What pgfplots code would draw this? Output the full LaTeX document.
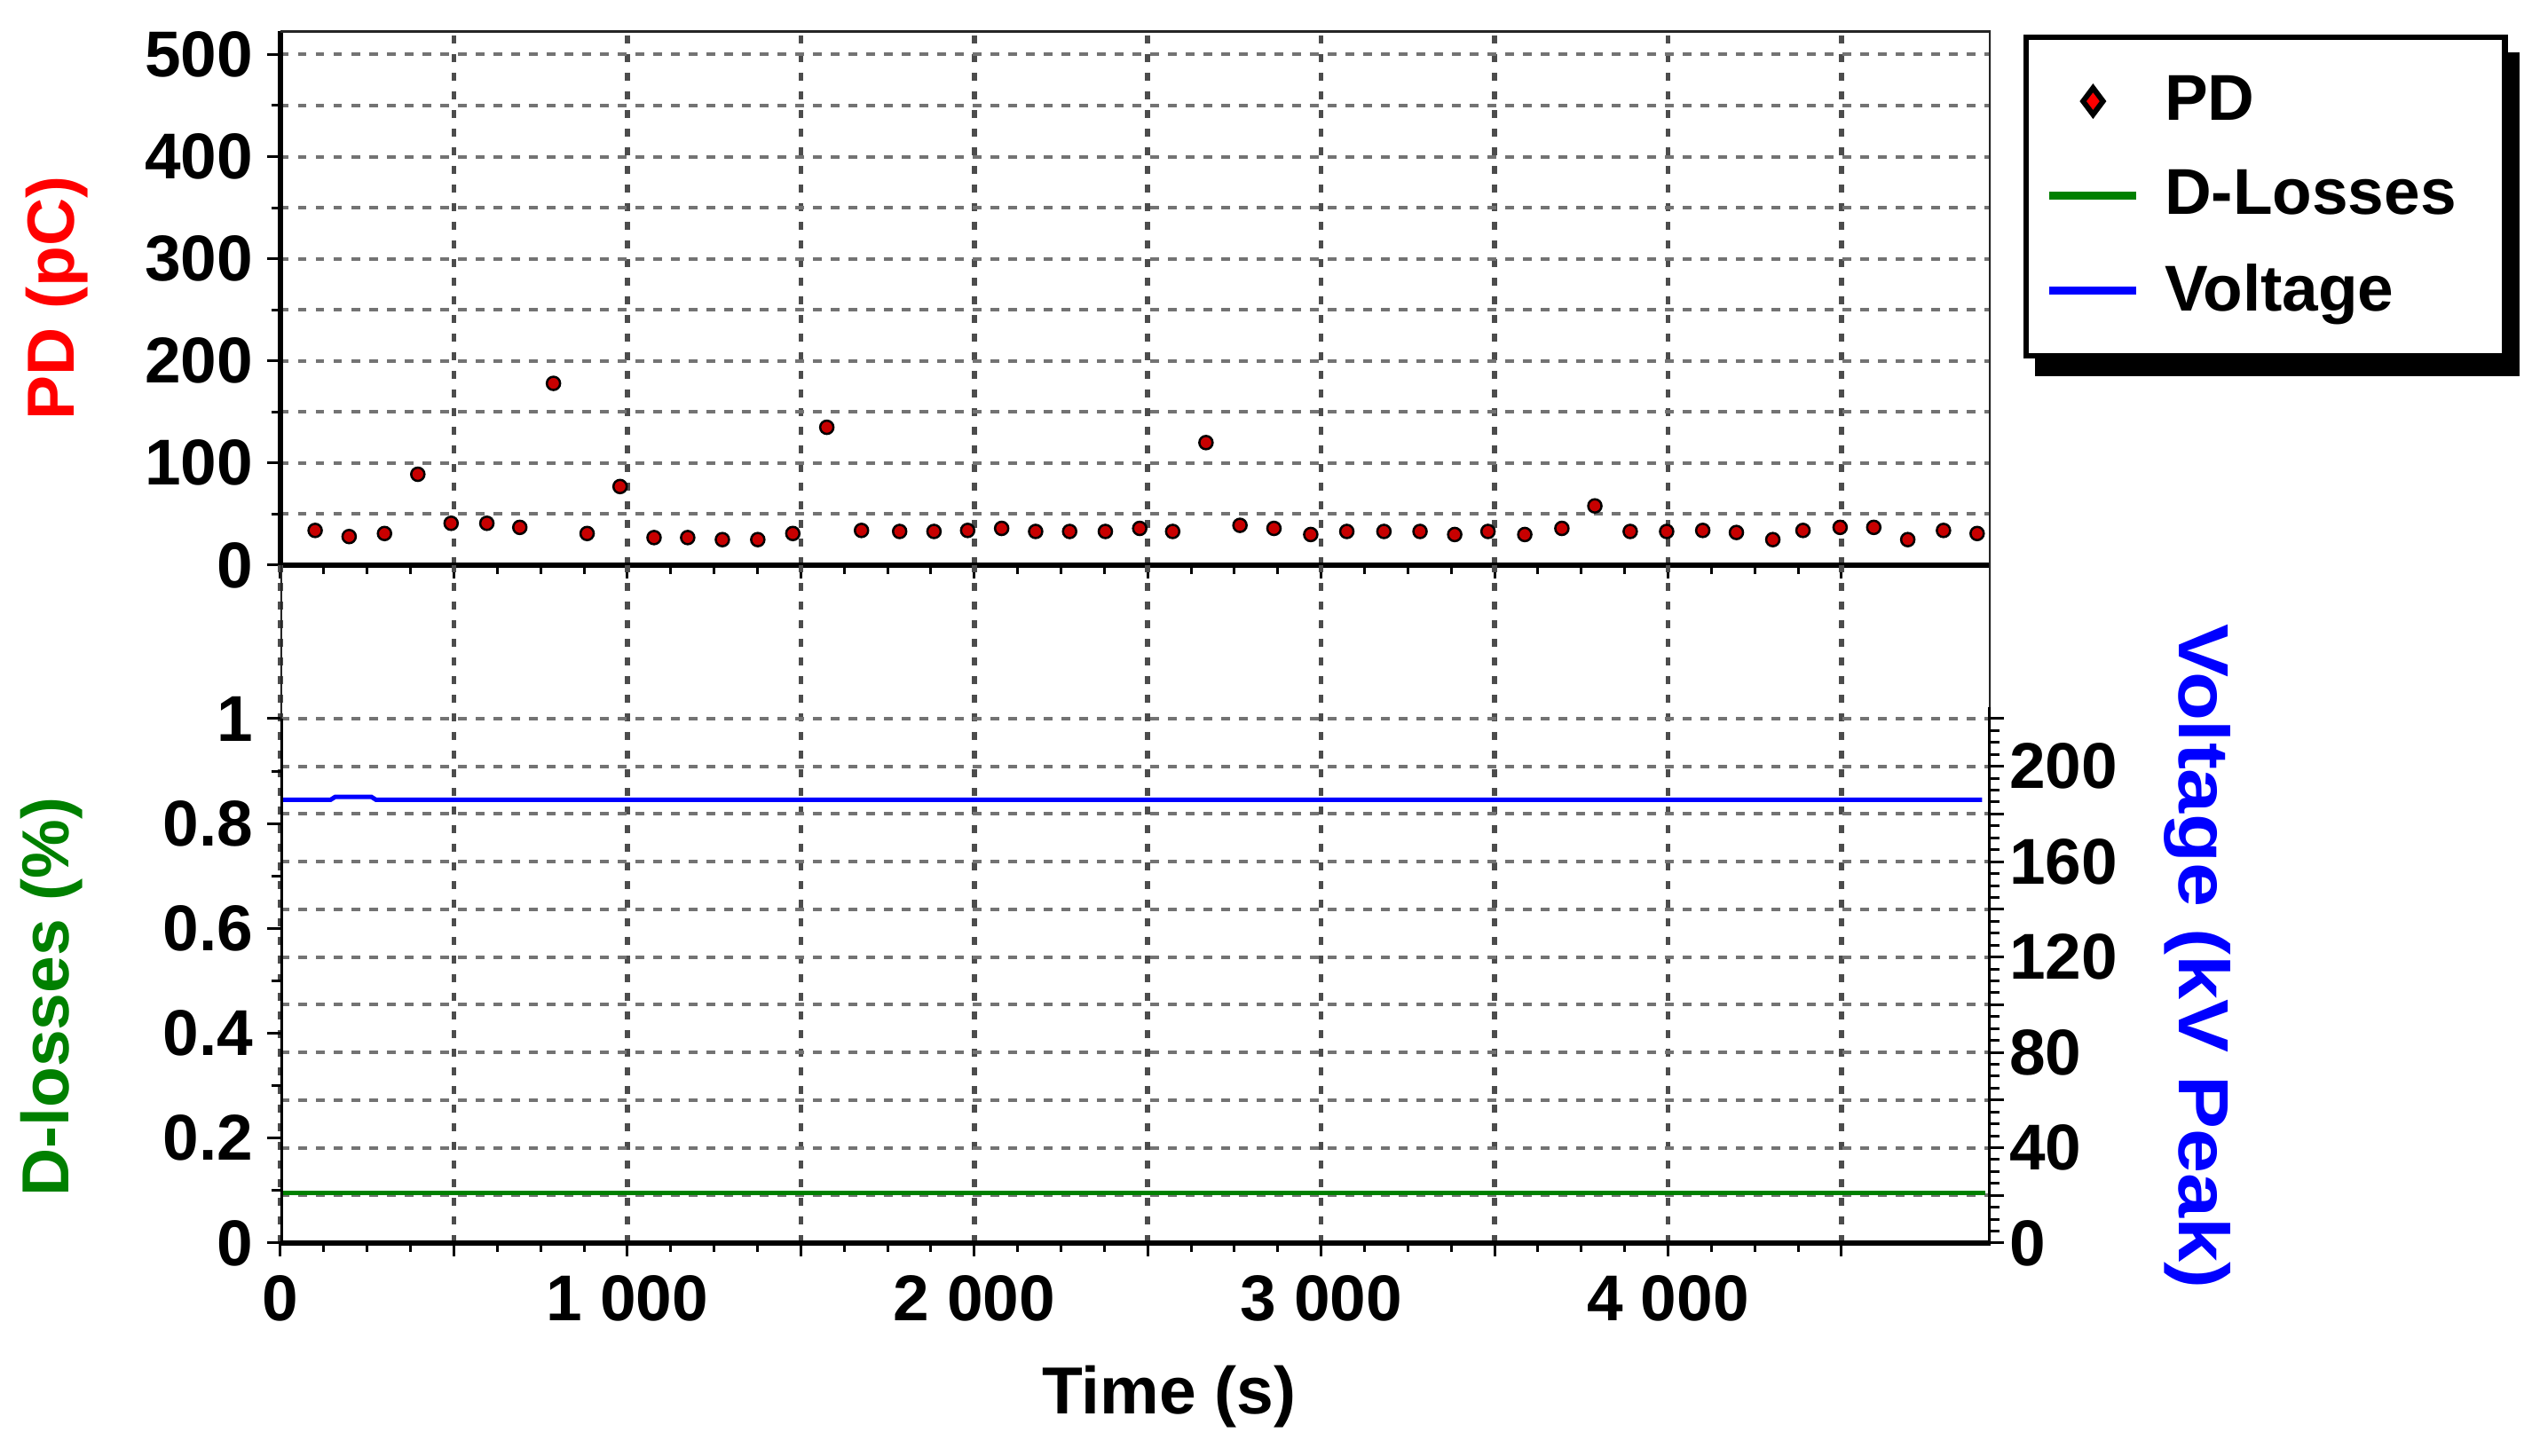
\documentclass[border=0pt]{standalone}
\usepackage{graphicx}
\usepackage{pgfplots}
\pgfplotsset{compat=1.18}
\usepackage{fontspec}
\setmainfont{Liberation Sans}
\usetikzlibrary{backgrounds}
\definecolor{pdred}{RGB}{255,0,0}
\definecolor{dgreen}{RGB}{0,128,0}
\definecolor{vblue}{RGB}{0,0,255}
\definecolor{markred}{RGB}{200,0,0}
\newcommand\tickfont{\fontsize{14.6}{17}\selectfont\bfseries}
\newcommand\labfont{\fontsize{15}{18}\selectfont\bfseries}

\pgfplotstableread{
t pd
100 34
198 28
300 31
396 89
492 41
595 41
690 37
787 178
884 31
979 77
1077 27
1174 27
1274 25
1376 25
1477 31
1575 135
1675 34
1785 33
1884 33
1981 34
2079 36
2177 33
2275 33
2378 33
2477 36
2572 33
2668 120
2766 39
2864 36
2970 30
3074 33
3181 33
3285 33
3385 30
3481 33
3587 30
3694 36
3789 58
3891 33
3996 33
4100 34
4197 32
4302 25
4389 34
4496 37
4593 37
4691 25
4794 34
4891 31
}\pdtable

\pgfplotsset{
  common/.style={
    scale only axis, width=385.4pt, xmin=0, xmax=4930,
    tick label style={font=\tickfont},
    /pgf/number format/assume math mode=true,
    tick align=outside,
    major tick length=3pt, minor tick length=2pt,
    every tick/.style={black, line width=0.6pt},
    major x grid style={black!70, line width=1.1pt, dash pattern=on 1.7pt off 2.5pt},
    major y grid style={black!55, line width=0.8pt, dash pattern=on 1.9pt off 2.1pt},
    minor y grid style={black!55, line width=0.8pt, dash pattern=on 1.9pt off 2.1pt},
    xticklabel style={inner sep=0pt, anchor=north, yshift=-4.2pt},
  },
}

\begin{document}
\begin{tikzpicture}
\useasboundingbox (0,0) rectangle (570.6pt,328.2pt);

% ---------- top: PD ----------
\begin{axis}[common, at={(63.2pt,200.8pt)}, anchor=south west, height=120.4pt,
  ymin=0, ymax=523,
  axis x line*=bottom, axis y line*=left, axis line style={-, line width=1.3pt},
  xtick={0,500,...,4500}, xticklabels={}, minor x tick num=3,
  ytick={0,100,...,500}, minor ytick={50,150,...,450},
  xmajorgrids, ymajorgrids, yminorgrids,
  yticklabel style={inner sep=0pt, anchor=east, xshift=-3pt},
  ylabel={PD (pC)},
  ylabel style={font=\labfont, color=pdred, at={(axis description cs:-0.1308,0.5)}, anchor=center},
  legend style={name=leg, at={(axis description cs:1.019,0.9934)}, anchor=north west,
    draw=black, line width=1.3pt, fill=white, font=\tickfont,
    inner xsep=4.4pt, inner ysep=8.6pt, row sep=9.7pt, column sep=5.45pt,
    nodes={inner sep=0pt}},
  legend cell align=left,
]
\addplot[only marks, mark=*, mark size=1.5pt,
  mark options={fill=markred, draw=black, line width=0.5pt},
  legend image code/.code={\draw[mark=diamond*, mark size=3pt, mark options={fill=red, draw=black, line width=1.2pt}] plot coordinates {(9.8pt,0pt)};}
] table[x=t, y=pd] {\pdtable};
\addlegendimage{legend image code/.code={\draw[dgreen, line width=1.8pt] (0pt,0pt) -- (19.6pt,0pt);}}
\addlegendimage{legend image code/.code={\draw[vblue, line width=1.8pt] (0pt,0pt) -- (19.6pt,0pt);}}
\legend{PD, D-Losses\rule{6.5pt}{0pt}, \raisebox{0pt}[\height][0pt]{Voltage}}
\draw[black!85, line width=0.7pt] (rel axis cs:0,1) -- (rel axis cs:1,1) -- (rel axis cs:1,0);
\end{axis}

% ---------- bottom: Voltage (right axis) ----------
\begin{axis}[common, at={(63.2pt,48pt)}, anchor=south west, height=152.8pt,
  ymin=0, ymax=284.4,
  axis x line*=bottom, axis y line*=right, axis line style={draw=none},
  xtick={0,500,...,4500}, xticklabels={}, major x tick style={draw=none},
  xmajorgrids,
  ytick={0,20,...,220}, yticklabels={0,,40,,80,,120,,160,,200,},
  minor y tick num=3, ymajorgrids,
  yticklabel style={inner sep=0pt, anchor=west, xshift=1pt},
  ylabel={\scalebox{1.125}[1]{Voltage (kV Peak)}},
  ylabel style={font=\fontsize{16}{19}\selectfont\bfseries, color=vblue, at={(axis description cs:1.1209,0.4228)}, anchor=center, rotate=180},
]
\addplot[vblue, line width=1pt] coordinates {(0,186) (145,186) (158,187.2) (262,187.2) (275,186) (4905,186)};
\draw[black, line width=1.3pt] (rel axis cs:1,0) -- (axis cs:4930,225);
\draw[black!85, line width=0.7pt] (axis cs:4930,225) -- (rel axis cs:1,1);
\end{axis}

% ---------- bottom: D-losses (left axis) ----------
\begin{axis}[common, at={(63.2pt,48pt)}, anchor=south west, height=152.8pt,
  ymin=0, ymax=1.2927,
  axis x line*=bottom, axis y line*=left, axis line style={-, line width=1.3pt},
  y axis line style={draw=none},
  xtick={0,500,...,4500}, xticklabels={0,,1 000,,2 000,,3 000,,4 000,}, minor x tick num=3,
  ytick={0,0.2,0.4,0.6,0.8,1}, minor ytick={0.1,0.3,0.5,0.7,0.9},
  yticklabel style={inner sep=0pt, anchor=east, xshift=-3pt, /pgf/number format/fixed},
  xlabel={Time (s)},
  xlabel style={font=\labfont, at={(axis description cs:0.5195,-0.2264)}, anchor=center},
  ylabel={D-losses (\%)},
  ylabel style={font=\labfont, color=dgreen, at={(axis description cs:-0.134,0.363)}, anchor=center},
]
\addplot[dgreen, line width=1pt] coordinates {(0,0.096) (4915,0.096)};
\draw[black, line width=1.3pt] (rel axis cs:0,0) -- (axis cs:0,1);
\draw[black!85, line width=0.7pt] (axis cs:0,1) -- (rel axis cs:0,1);
\end{axis}

\begin{scope}[on background layer]
\fill[black] ([xshift=2.6pt,yshift=-4pt]leg.north west) rectangle ([xshift=2.6pt,yshift=-4pt]leg.south east);
\end{scope}
\end{tikzpicture}
\end{document}
